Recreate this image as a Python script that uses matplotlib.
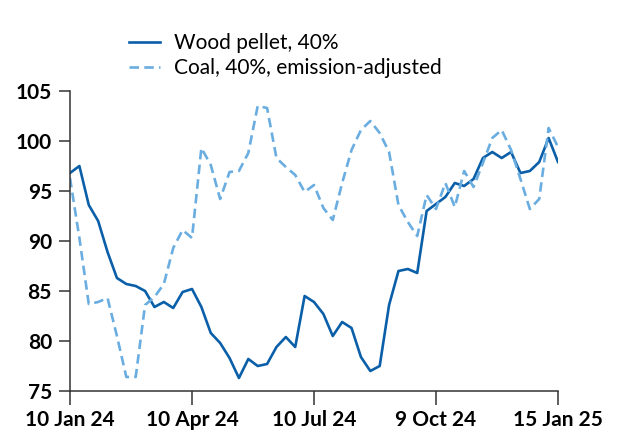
import numpy as np
import matplotlib
matplotlib.use("Agg")
import matplotlib.pyplot as plt

plt.rcParams['font.family'] = ['Lato', 'DejaVu Sans']

# weekly series, 10 Jan 24 .. 15 Jan 25 (53 points)
wood = [96.8, 97.5, 93.6, 92.0, 88.9, 86.3, 85.7, 85.5, 85.0, 83.4,
        83.9, 83.3, 84.9, 85.2, 83.4, 80.8, 79.8, 78.3, 76.3, 78.2,
        77.5, 77.7, 79.4, 80.4, 79.4, 84.5, 83.9, 82.7, 80.5, 81.9,
        81.3, 78.4, 77.0, 77.5, 83.6, 87.0, 87.2, 86.8, 93.0, 93.7,
        94.4, 95.8, 95.5, 96.2, 98.3, 98.9, 98.3, 98.9, 96.8, 97.0,
        97.9, 100.3, 97.9]
coal = [96.3, 90.3, 83.7, 83.9, 84.3, 80.5, 76.4, 76.4, 83.6, 84.4,
        85.7, 89.3, 91.1, 90.3, 99.3, 97.6, 94.2, 96.9, 97.0, 98.8,
        103.5, 103.3, 98.3, 97.4, 96.6, 94.9, 95.6, 93.3, 92.1, 95.8,
        99.1, 101.1, 102.0, 100.8, 98.9, 93.6, 91.9, 90.5, 94.6, 93.2,
        95.8, 93.4, 97.0, 95.4, 97.8, 100.3, 101.1, 99.1, 96.2, 93.2,
        94.2, 101.3, 99.4]
tick_pos = [0, 13, 26, 39, 52]
tick_labels = ['10 Jan 24', '10 Apr 24', '10 Jul 24', '9 Oct 24', '15 Jan 25']
y_ticks = [75, 80, 85, 90, 95, 100, 105]

fig = plt.figure(figsize=(6.17, 4.34), dpi=100)
ax = fig.add_axes([70/617, 43/434, 488/617, 300/434])

x = np.arange(len(wood))
ax.plot(x, wood, color='#0a5fa8', lw=1.9, label='Wood pellet, 40%')
ax.plot(x, coal, color='#6aade0', lw=1.9, dashes=(3.6, 2.0),
        label='Coal, 40%, emission-adjusted')

ax.set_xlim(0, 52)
ax.set_ylim(75, 105)
ax.set_xticks(tick_pos)
ax.set_xticklabels(tick_labels)
ax.set_yticks(y_ticks)

for s in ['top', 'right']:
    ax.spines[s].set_visible(False)
for s in ['left', 'bottom']:
    ax.spines[s].set_color('#333333')
    ax.spines[s].set_linewidth(1.1)
ax.tick_params(axis='both', width=1.1, color='#333333', labelsize=15)
ax.tick_params(axis='y', length=8, pad=5)
ax.tick_params(axis='x', length=10, pad=4)
for lab in ax.get_xticklabels() + ax.get_yticklabels():
    lab.set_fontweight('bold')

fig.legend(loc='upper left', bbox_to_anchor=(129/617, 1 - 33/434),
           frameon=False, fontsize=15, handlelength=1.5,
           handletextpad=0.65, labelspacing=0.25, borderpad=0,
           borderaxespad=0)

fig.savefig('out.png', dpi=100)
